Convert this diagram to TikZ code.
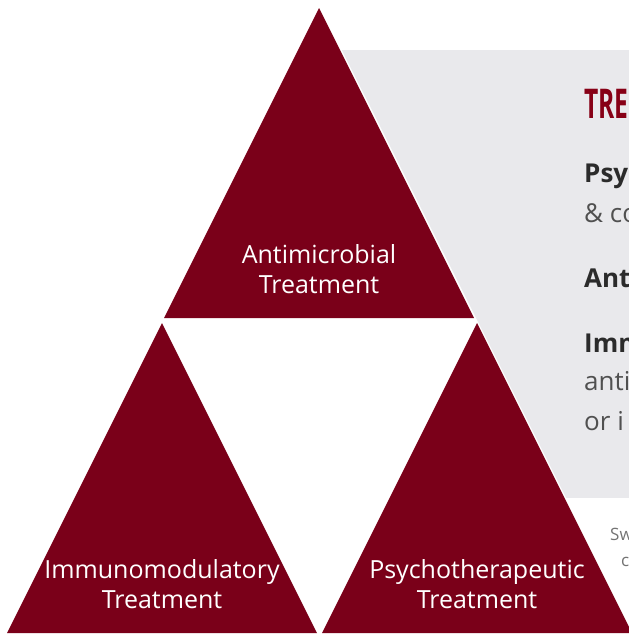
\documentclass[tikz,border=0pt]{standalone}
\usepackage{fontspec}
\setmainfont{Open Sans}
\newfontfamily\headfont[FakeStretch=0.6]{Open Sans}
\definecolor{maroon}{HTML}{7A0019}
\definecolor{panel}{HTML}{E9E9EC}
\definecolor{ink}{HTML}{2B2B2B}
\definecolor{soft}{HTML}{505050}

\begin{document}
\begin{tikzpicture}[x=1pt, y=-1pt,
    tri/.style={fill=maroon},
    trilabel/.style={text=white, align=center, font=\fontsize{25}{30}\selectfont},
    key/.style={anchor=base west, inner sep=0pt, text=ink, font=\fontsize{26}{30}\selectfont\bfseries},
    body/.style={anchor=base west, inner sep=0pt, text=soft, font=\fontsize{26}{30}\selectfont},
    note/.style={anchor=base west, inner sep=0pt, text=soft!80, font=\fontsize{17}{20}\selectfont}]

   \useasboundingbox (0,0) rectangle (629,635);
   \clip (0,0) rectangle (629,635);

   % panel behind
   \fill[panel] (330,50) rectangle (640,498);
   \fill[white, draw=white, line width=3pt, line join=round] (319,8) -- (6,633) -- (632,633) -- cycle;

   \foreach \x/\y/\t/\n in {319/8/Antimicrobial/anti, 162/323/Immunomodulatory/immuno, 477/323/Psychotherapeutic/psycho} {
     \fill[tri] (\x,\y) -- ++(-155,310) -- ++(310,0) -- cycle;
     \node[trilabel] (\n) at (\x,\y+261) {\t\\Treatment};
   }

   \node[anchor=base west, inner sep=0pt, text=maroon!90!red, font=\fontsize{41}{41}\selectfont\headfont\bfseries]
      (head) at (584,118) {TRE};
   \node[key]  (psy)   at (584,182) {Psy};
   \node[body] (psyb)  at (584,222) {\& co};
   \node[key]  (ant)   at (584,287) {Ant};
   \node[key]  (imm)   at (584,352) {Imm};
   \node[body] (immb)  at (584,390) {anti};
   \node[body] (immc)  at (584,430) {or i};

   \node[note] (sw)  at (610,540) {Sw};
   \node[note] (swb) at (621,566) {c};

\end{tikzpicture}
\end{document}
